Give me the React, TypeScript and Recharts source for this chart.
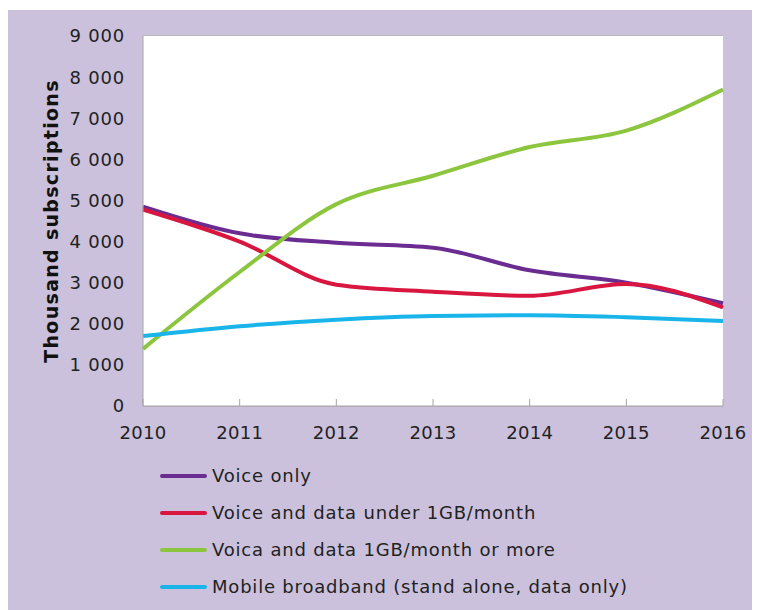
import { LineChart, Line, XAxis, YAxis, CartesianGrid } from 'recharts'

const years = ['2010', '2011', '2012', '2013', '2014', '2015', '2016']
const voiceOnly = [4850, 4200, 3970, 3850, 3300, 3000, 2500]
const voiceDataUnder1GB = [4780, 4000, 2950, 2780, 2680, 2970, 2400]
const voiceData1GBPlus = [1390, 3260, 4910, 5600, 6300, 6700, 7700]
const mobileBroadband = [1700, 1940, 2100, 2190, 2210, 2160, 2070]
const yTicks = [0, 1000, 2000, 3000, 4000, 5000, 6000, 7000, 8000, 9000]

const series = [
  { key: 'voiceOnly', name: 'Voice only', color: '#6b2c91', values: voiceOnly },
  { key: 'under1GB', name: 'Voice and data under 1GB/month', color: '#d8163f', values: voiceDataUnder1GB },
  { key: 'over1GB', name: 'Voica and data 1GB/month or more', color: '#8cc63e', values: voiceData1GBPlus },
  { key: 'broadband', name: 'Mobile broadband (stand alone, data only)', color: '#19b5ea', values: mobileBroadband },
]

const data = years.map((year, i) => {
  const row: Record<string, string | number> = { year }
  series.forEach((s) => { row[s.key] = s.values[i] })
  return row
})

const font = '"DejaVu Sans", Verdana, sans-serif'
const fmt = (v: number) => (v >= 1000 ? `${Math.floor(v / 1000)} ${String(v % 1000).padStart(3, '0')}` : String(v))

// excel style: tick marks point up into the plot
const XTick = ({ x, y, payload }: any) => (
  <g>
    <line x1={x} x2={x} y1={y - 20} y2={y - 27} stroke="#a6a6a6" />
    <text x={x} y={y} dy={13} textAnchor="middle" fill="#222" fontSize={18} fontFamily={font} letterSpacing={0.3}>
      {payload.value}
    </text>
  </g>
)

export default function App() {
  return (
    <div style={{ position: 'relative', width: 752, height: 600, marginTop: 2, background: '#cbc1dc', fontFamily: font }}>
      <LineChart width={752} height={450} data={data} margin={{ top: 26, right: 37, left: 0, bottom: 0 }}>
        <rect x={135} y={26} width={580} height={370} fill="#fff" />
        <CartesianGrid vertical={false} stroke="#b3b3b3" strokeWidth={1.5} />
        <XAxis dataKey="year" height={54} stroke="#a6a6a6" tickLine={false} tickSize={0} tickMargin={20} tick={<XTick />} />
        <YAxis
          width={135}
          domain={[0, 9000]}
          ticks={yTicks}
          interval={0}
          tickFormatter={fmt}
          stroke="#a6a6a6"
          tickLine={false}
          tickSize={0}
          tickMargin={18}
          tick={{ fill: '#222', fontSize: 18, fontFamily: font, letterSpacing: 0.8 }}
          label={{ value: 'Thousand subscriptions', angle: -90, position: 'insideLeft', dx: 38, dy: 0, style: { textAnchor: 'middle', fontWeight: 'bold', fontSize: 19, letterSpacing: 1.3, fill: '#111', fontFamily: font } }}
        />
        <YAxis yAxisId="edge" orientation="right" width={0} domain={[0, 9000]} stroke="#a6a6a6" tick={false} tickLine={false} />
        {series.map((s) => (
          <Line key={s.key} type="monotone" dataKey={s.key} name={s.name} stroke={s.color} strokeWidth={4} dot={false} isAnimationActive={false} />
        ))}
      </LineChart>
      <div style={{ position: 'absolute', left: 152, top: 447 }}>
        {series.map((s) => (
          <div key={s.key} style={{ display: 'flex', alignItems: 'center', height: 37, fontSize: 18, letterSpacing: 0.8, color: '#222' }}>
            <span style={{ display: 'inline-block', width: 47, height: 4, borderRadius: 2, background: s.color, marginRight: 5 }} />
            {s.name}
          </div>
        ))}
      </div>
    </div>
  )
}
